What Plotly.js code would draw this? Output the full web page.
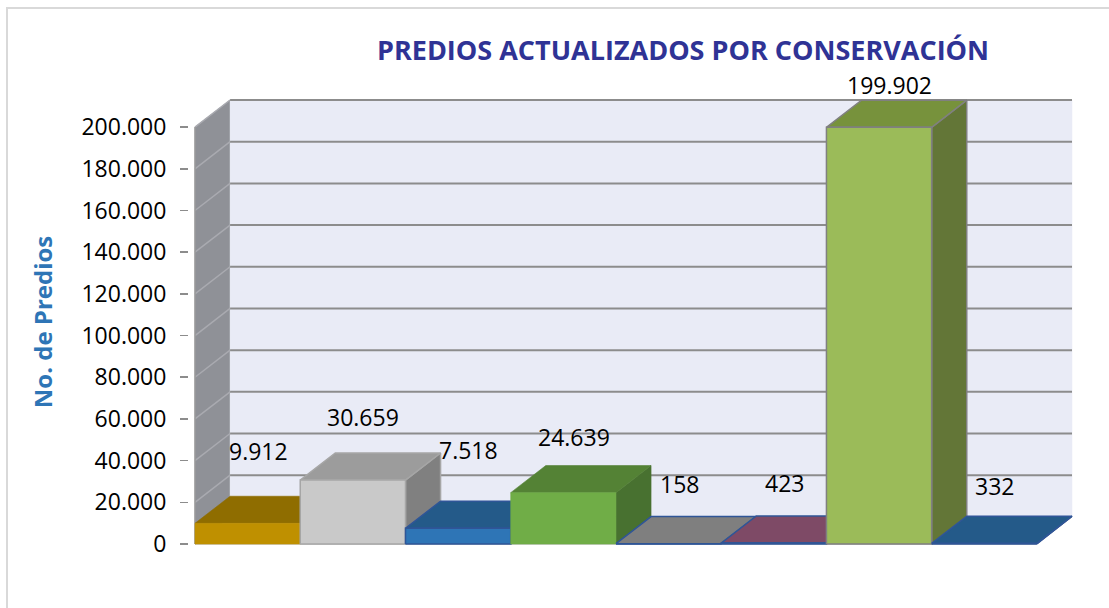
<!DOCTYPE html>
<html><head><meta charset="utf-8">
<script src="https://cdn.plot.ly/plotly-3.0.1.min.js"></script>
<style>
body{margin:0;background:#fff;overflow:hidden}
#chart{width:1109px;height:608px}
#frame{position:absolute;left:6px;top:7px;width:1200px;height:700px;border:2px solid #d9d9d9;pointer-events:none}
</style>
</head><body>
<div id="chart"></div><div id="frame"></div>
<script>
// ---- data ----
const categories = ['C1', 'C2', 'C3', 'C4', 'C5', 'C6', 'C7', 'C8'];
const values = [9912, 30659, 7518, 24639, 158, 423, 199902, 332];
const tickValues = [0, 20000, 40000, 60000, 80000, 100000, 120000, 140000, 160000, 180000, 200000];
const titleText = 'PREDIOS ACTUALIZADOS POR CONSERVACIÓN';
const yTitleText = 'No. de Predios';

// ---- styles ----
const frontColors = ['#BF9000', '#C9C9C9', '#2E75B6', '#70AD47', '#7F7F7F', '#7E4A66', '#9BBB59', '#2E75B6'];
const topColors   = ['#8F6D00', '#9C9C9C', '#245A89', '#548235', '#7F7F7F', '#7E4A66', '#77923C', '#245A89'];
const sideColors  = ['#7A5C00', '#808080', '#1E4C74', '#487130', '#6A6A6A', '#693E55', '#637637', '#1E4C74'];
const edgeColors  = [null, '#A6A6A6', '#2F5597', null, '#2F5597', '#2F5597', '#808080', '#2F5597'];
const labelLift = [45, 36, 51, 29, 33, 33, 15, 30]; // px above bar top

const N = values.length;
const TOP = 200000;
const DX = 1 / 3;        // depth in category units
const DY = 13000;        // depth in value units
const PX0 = 195, PX1 = 1072, PY0 = 544, PY1 = 100, PAD = 6;
const kx = (PX1 - PX0) / (N + DX);
const ky = (PY0 - PY1) / (TOP + DY);

function fmt(v) { return String(v).replace(/\B(?=(\d{3})+(?!\d))/g, '.'); }

function poly(xs, ys, fill, line, lw) {
  return {
    type: 'scatter', mode: 'lines',
    x: xs.concat([xs[0]]), y: ys.concat([ys[0]]),
    fill: 'toself', fillcolor: fill,
    line: { color: line || fill, width: lw === undefined ? 0.6 : lw },
    hoverinfo: 'skip', showlegend: false
  };
}

const traces = [];
// left wall
traces.push(poly([0, 0, DX, DX], [0, TOP, TOP + DY, DY], '#8F9197', '#8F9197', 0.5));
// back wall
traces.push(poly([DX, N + DX, N + DX, DX], [DY, DY, TOP + DY, TOP + DY], '#E9EBF6', '#E9EBF6', 0.5));
// wall gridlines
const wgx = [], wgy = [], bgx = [], bgy = [];
tickValues.forEach(v => {
  wgx.push(0, DX, null); wgy.push(v, v + DY, null);
  bgx.push(DX, N + DX, null); bgy.push(v + DY, v + DY, null);
});
traces.push({ type: 'scatter', mode: 'lines', x: wgx, y: wgy, line: { color: '#A9AAB0', width: 1.5 }, hoverinfo: 'skip', showlegend: false });
traces.push({ type: 'scatter', mode: 'lines', x: bgx, y: bgy, line: { color: '#8C8C8C', width: 2 }, hoverinfo: 'skip', showlegend: false });
traces.push({ type: 'scatter', mode: 'lines', x: [0, 0], y: [0, TOP], line: { color: '#9A9A9A', width: 1.5 }, hoverinfo: 'skip', showlegend: false });
// floor
traces.push(poly([0, N, N + DX, DX], [0, 0, DY, DY], '#D9D9D9', '#A6A6A6', 1));

// bars
values.forEach((v, i) => {
  const x0 = i, x1 = i + 1;
  const ec = edgeColors[i];
  const lw = ec ? 1.5 : 0.6;
  traces.push(poly([x1, x1 + DX, x1 + DX, x1], [0, DY, v + DY, v], sideColors[i], ec || sideColors[i], lw));
  traces.push(poly([x0, x1, x1 + DX, x0 + DX], [v, v, v + DY, v + DY], topColors[i], ec || topColors[i], lw));
  traces.push(poly([x0, x1, x1, x0], [0, 0, v, v], frontColors[i], ec || frontColors[i], lw));
});

const annotations = values.map((v, i) => ({
  x: i + 0.6, y: v + DY, xref: 'x', yref: 'y',
  text: fmt(v), showarrow: false, yanchor: 'middle', xanchor: 'center',
  yshift: labelLift[i],
  font: { family: 'Open Sans, sans-serif', size: 23, color: '#000000' }
}));

const layout = {
  width: 1109, height: 608,
  paper_bgcolor: '#ffffff', plot_bgcolor: 'rgba(0,0,0,0)',
  separators: ',.',
  margin: { l: PX0 - PAD, r: 1109 - PX1 - PAD, t: PY1 - PAD, b: 608 - PY0 - PAD, pad: 0 },
  title: {
    text: '<b>' + titleText + '</b>',
    xref: 'container', yref: 'container', x: 683 / 1109, y: 1 - 51 / 608,
    xanchor: 'center', yanchor: 'middle',
    font: { family: 'Open Sans, sans-serif', size: 27, color: '#2F3395' }
  },
  xaxis: {
    range: [-PAD / kx, N + DX + PAD / kx], fixedrange: true,
    showgrid: false, zeroline: false, showline: false, showticklabels: false, ticks: ''
  },
  yaxis: {
    range: [-PAD / ky, TOP + DY + PAD / ky], fixedrange: true,
    tickmode: 'array', tickvals: tickValues, tickformat: ',d',
    showgrid: false, zeroline: false, showline: false,
    ticks: 'outside', ticklen: 8, tickwidth: 1.5, tickcolor: '#8C8C8C',
    ticklabelstandoff: 9,
    tickfont: { family: 'Open Sans, sans-serif', size: 23, color: '#000000' },
    title: {
      text: '<b>' + yTitleText + '</b>', standoff: 22,
      font: { family: 'Open Sans, sans-serif', size: 24, color: '#2E75B6' }
    }
  },
  annotations: annotations,
  showlegend: false
};

Plotly.newPlot('chart', traces, layout, { displayModeBar: false, staticPlot: true });
</script>
</body></html>
